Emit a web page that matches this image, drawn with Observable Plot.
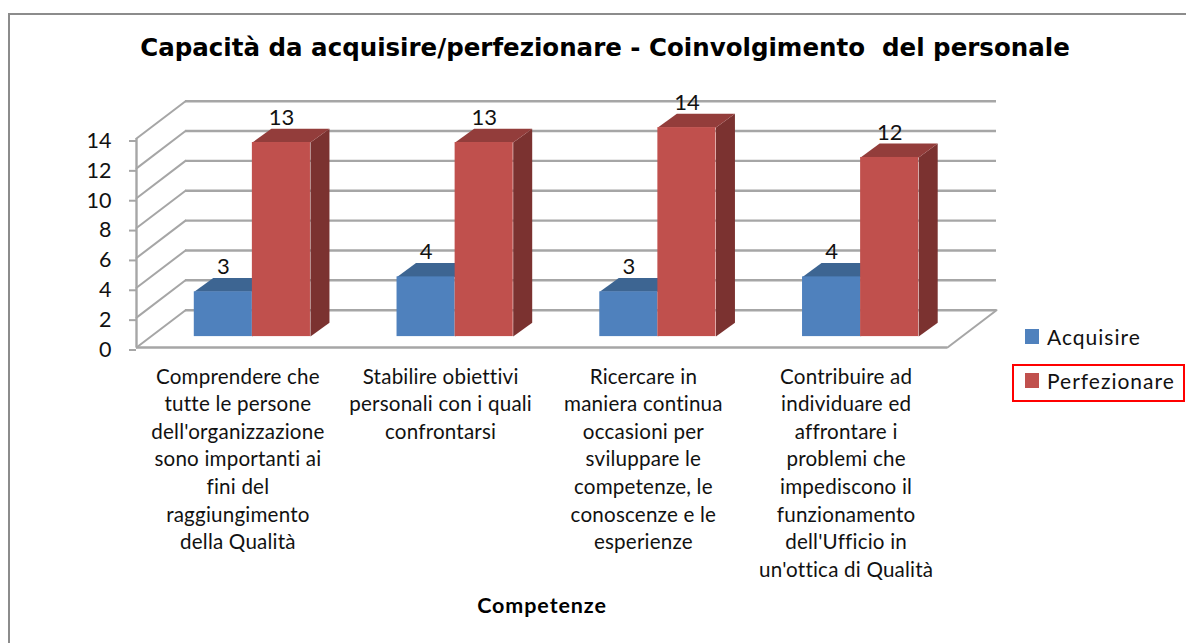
<!DOCTYPE html>
<html><head><meta charset="utf-8">
<script src="https://cdn.jsdelivr.net/npm/d3@7"></script>
<script src="https://cdn.jsdelivr.net/npm/@observablehq/plot@0.6"></script>
<style>
html,body{margin:0;padding:0;background:#fff;overflow:hidden}
#wrap{position:relative;width:1186px;height:643px;overflow:hidden}
#frame{position:absolute;left:8px;top:13px;width:1300px;height:800px;border:2px solid #8c8c8c;box-sizing:border-box}
#title{position:absolute;left:0;top:33px;width:1210px;text-align:center;font:bold 24.5px "DejaVu Sans";color:#000;white-space:pre}
.lg{position:absolute;font:21px Lato;color:#111;letter-spacing:1px;white-space:nowrap}
.sw{position:absolute;width:14px;height:15px}
#box{position:absolute;left:1012px;top:364px;width:173px;height:38px;border:2px solid #f00;box-sizing:border-box}
#chart{position:absolute;left:0;top:0}
#chart g[aria-label="x-axis tick label"] text{letter-spacing:.2px}
#chart g[aria-label="x-axis label"] text{letter-spacing:.9px}
</style></head><body>
<div id="wrap">
<div id="frame"></div>
<div id="chart"></div>
<div id="title">Capacità da acquisire/perfezionare - Coinvolgimento  del personale</div>
<div class="sw" style="left:1025px;top:329px;background:#4f81bd"></div>
<div class="lg" style="left:1047px;top:324px">Acquisire</div>
<div id="box"></div>
<div class="sw" style="left:1025px;top:373px;background:#c0504d"></div>
<div class="lg" style="left:1047px;top:368px">Perfezionare</div>
</div>
<script>
const categories = [
  "Comprendere che\ntutte le persone\ndell'organizzazione\nsono importanti ai\nfini del\nraggiungimento\ndella Qualità",
  "Stabilire obiettivi\npersonali con i quali\nconfrontarsi",
  "Ricercare in\nmaniera continua\noccasioni per\nsviluppare le\ncompetenze, le\nconoscenze e le\nesperienze",
  "Contribuire ad\nindividuare ed\naffrontare i\nproblemi che\nimpediscono il\nfunzionamento\ndell'Ufficio in\nun'ottica di Qualità"
];
const acquisire = [3, 4, 3, 4];
const perfezionare = [13, 13, 14, 12];
const yTicks = [0, 2, 4, 6, 8, 10, 12, 14];
const axisTitle = "Competenze";

// chart-space constants for the pseudo-3D box (in data units)
const wallDX = 0.2417, wallDY = 2.5;      // depth of the floor/walls
const barDX = 0.0937, barDY = 0.93;       // depth of each bar
const barBase = 0.73;                     // lift of the bar feet on the floor
const barStart = 0.285, barWidth = 0.2865;

const bars = [];
categories.forEach((c, i) => {
  bars.push({s: 0, i, v: acquisire[i], x1: i + barStart, x2: i + barStart + barWidth});
  bars.push({s: 1, i, v: perfezionare[i], x1: i + barStart + barWidth, x2: i + barStart + 2 * barWidth});
});
const poly = (rows) => rows.flatMap((r, k) => r.pts.map(p => ({id: k, x: p[0], y: p[1]})));
const tops = (s) => poly(bars.filter(b => b.s === s).map(b => ({pts: [
  [b.x1, barBase + b.v], [b.x2, barBase + b.v],
  [b.x2 + barDX, barBase + b.v + barDY], [b.x1 + barDX, barBase + b.v + barDY]
]})));
const sides = (s) => poly(bars.filter(b => b.s === s).map(b => ({pts: [
  [b.x2, barBase], [b.x2, barBase + b.v],
  [b.x2 + barDX, barBase + b.v + barDY], [b.x2 + barDX, barBase + barDY]
]})));
const n = categories.length, yMax = d3.max(yTicks);
const backGrid = yTicks.map(t => ({t}));
const gridStroke = "#a6a6a6";
const lineOpts = {stroke: gridStroke, strokeWidth: 2.4};
const seg = (a, b) => [{x: a[0], y: a[1]}, {x: b[0], y: b[1]}];

const polyMark = (data, fill) => Plot.line(data, {x: "x", y: "y", z: "id", fill, stroke: "none"});
const front = (s, fill) => Plot.rect(bars.filter(b => b.s === s), {
  x1: "x1", x2: "x2", y1: () => barBase, y2: d => barBase + d.v, fill, inset: 0
});

const plot = Plot.plot({
  width: 1186, height: 643,
  marginLeft: 136, marginRight: 239, marginTop: 138, marginBottom: 296,
  style: {background: "transparent", overflow: "visible"},
  x: {domain: [0, n], axis: null},
  y: {domain: [0, yMax], axis: null},
  marks: [
    // back wall grid
    Plot.ruleY(backGrid, {y: d => d.t + wallDY, x1: wallDX, x2: n + wallDX, ...lineOpts}),
    // left wall diagonals
    ...yTicks.map(t => Plot.line(seg([0, t], [wallDX, t + wallDY]), {x: "x", y: "y", ...lineOpts, strokeWidth: 2})),
    // floor front edge & right edge
    Plot.line(seg([n, 0], [n + wallDX, wallDY]), {x: "x", y: "y", ...lineOpts, strokeWidth: 2}),
    Plot.ruleY([0], {x1: 0, x2: n, ...lineOpts}),
    Plot.ruleX([0], {y1: 0, y2: yMax, ...lineOpts}),
    // bars
    polyMark(sides(0), "#3a5f8c"), polyMark(tops(0), "#3d6592"), front(0, "#4f81bd"),
    polyMark(sides(1), "#7b3230"), polyMark(tops(1), "#933d3b"), front(1, "#c0504d"),
    // value labels
    Plot.text(bars, {
      x: d => (d.x1 + d.x2) / 2, y: d => barBase + d.v, text: d => String(d.v),
      dy: -25, fontSize: 22, fontFamily: "Lato", fill: "#111"
    }),
    // y axis
    Plot.axisY(yTicks, {
      anchor: "left", tickSize: 7, tickPadding: 18, stroke: gridStroke, strokeWidth: 2,
      fill: "#111", fontSize: 21.5, fontFamily: "Lato", label: null, dy: 2.5
    }),
    // x axis: category labels
    Plot.axisX(categories.map((c, i) => i + 0.5), {
      anchor: "bottom", tickSize: 0, tickPadding: 16.5, lineHeight: 1.34,
      tickFormat: (d) => categories[Math.floor(d)], fill: "#111",
      fontSize: 20.6, fontFamily: "Lato", label: null, textOverflow: null, lineWidth: Infinity
    }),
    Plot.axisX({
      anchor: "bottom", ticks: [], label: axisTitle, labelAnchor: "center", labelArrow: "none",
      labelOffset: 265, fontSize: 21.5, fontFamily: "Lato", fontWeight: "bold", fill: "#000"
    })
  ]
});
document.getElementById("chart").appendChild(plot);
</script>
</body></html>
